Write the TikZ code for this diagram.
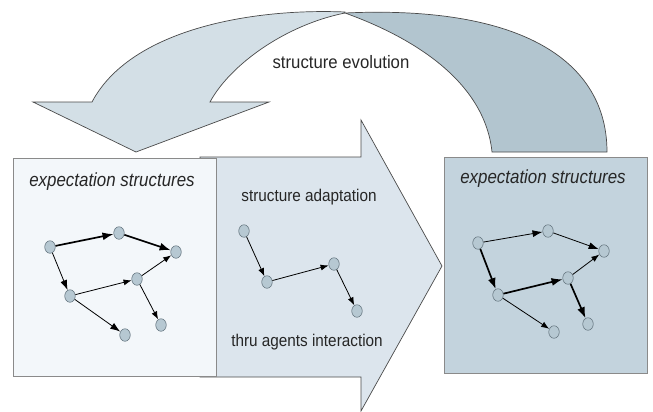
\documentclass[tikz,border=0pt]{standalone}
\usepackage{fontspec}
\setmainfont{Liberation Sans}
\newfontfamily\condlab[FakeStretch=0.9]{Liberation Sans}
\newfontfamily\condevo[FakeStretch=0.93]{Liberation Sans}
\newfontfamily\condtit[FakeStretch=0.89]{Liberation Sans}
\usetikzlibrary{arrows.meta,shapes.geometric}
\definecolor{outl}{HTML}{4A4A4A}
\definecolor{lightc}{HTML}{D3DFE6}
\definecolor{darkc}{HTML}{B2C5CF}
\definecolor{midc}{HTML}{DCE5ED}
\definecolor{leftbox}{HTML}{F3F7FA}
\definecolor{rightbox}{HTML}{C3D3DD}
\definecolor{boxline}{HTML}{8A8A8A}
\definecolor{nodefill}{HTML}{B6C8D2}
\definecolor{nodeline}{HTML}{6A7A84}
\begin{document}
\begin{tikzpicture}[x=1pt,y=-1pt,
  shapeline/.style={draw=outl,line width=0.7pt,line join=miter},
  boxstyle/.style={draw=boxline,line width=0.9pt},
  gnode/.style={ellipse,draw=nodeline,fill=nodefill,minimum width=10.5pt,minimum height=12.5pt,inner sep=0pt,line width=0.6pt},
  edge/.style={-{Latex[length=8pt,width=6pt]},line width=0.8pt,black},
  boldedge/.style={-{Latex[length=11pt,width=8pt]},line width=1.7pt,black},
  boxtitle/.style={font=\condtit\fontsize{19}{22}\selectfont\itshape,text=black!85,inner sep=0pt},
  label/.style={font=\condlab\fontsize{17}{20}\selectfont,text=black!85,inner sep=0pt}]
\useasboundingbox (0,0) rectangle (653,412);
% curved evolution arrow
\path[fill=darkc,shapeline] (345,13) .. controls (520,5) and (607,60) .. (607,152)
  -- (492,152) .. controls (485,85) and (420,40) .. (345,13) -- cycle;
\path[fill=lightc,shapeline] (345,12) .. controls (250,8) and (130,30) .. (92,102)
  -- (33,102) -- (136,152) -- (269,102) -- (210,102)
  .. controls (230,65) and (285,25) .. (345,13) -- cycle;
\node[label,font=\condevo\fontsize{18}{21}\selectfont] (evo) at (341,62) {structure evolution};
% adaptation arrow
\path[fill=midc,shapeline] (200,157) -- (361,157) -- (361,120) -- (442,266)
  -- (361,411) -- (361,377) -- (200,377) -- cycle;
% boxes
\path[fill=leftbox,boxstyle] (13,158) rectangle (216,376);
\path[fill=rightbox,boxstyle] (444,157) rectangle (647,373);
\node[boxtitle] (lt) at (112,182) {expectation structures};
\node[boxtitle] (rt) at (543,179) {expectation structures};
\node[label] (adapt) at (309,197) {structure adaptation};
\node[label] (thru) at (307,342) {thru agents interaction};
% left graph
\node[gnode] (A) at (50,247) {};
\node[gnode] (B) at (119,233) {};
\node[gnode] (C) at (176,252) {};
\node[gnode] (D) at (70,296) {};
\node[gnode] (E) at (137,279) {};
\node[gnode] (F) at (125,335) {};
\node[gnode] (G) at (161,325) {};
\draw[boldedge] (A) -- (B);
\draw[boldedge] (B) -- (C);
\draw[edge,-{Latex[length=10pt,width=7pt]}] (A) -- (D);
\draw[edge] (D) -- (E);
\draw[edge] (E) -- (C);
\draw[edge,-{Latex[length=10pt,width=7pt]}] (D) -- (F);
\draw[edge] (E) -- (G);
% middle graph
\node[gnode] (P) at (244,231) {};
\node[gnode] (Q) at (267,282) {};
\node[gnode] (R) at (334,264) {};
\node[gnode] (S) at (357,311) {};
\draw[edge] (P) -- (Q);
\draw[edge] (Q) -- (R);
\draw[edge] (R) -- (S);
% right graph
\node[gnode] (a) at (478,243) {};
\node[gnode] (b) at (548,231) {};
\node[gnode] (c) at (604,251) {};
\node[gnode] (d) at (498,295) {};
\node[gnode] (e) at (568,278) {};
\node[gnode] (f) at (554,332) {};
\node[gnode] (g) at (588,324) {};
\draw[edge,-{Latex[length=10pt,width=7pt]}] (a) -- (b);
\draw[edge,-{Latex[length=10pt,width=7pt]}] (b) -- (c);
\draw[boldedge] (a) -- (d);
\draw[boldedge] (d) -- (e);
\draw[edge] (e) -- (c);
\draw[edge] (d) -- (f);
\draw[boldedge] (e) -- (g);
\end{tikzpicture}
\end{document}
